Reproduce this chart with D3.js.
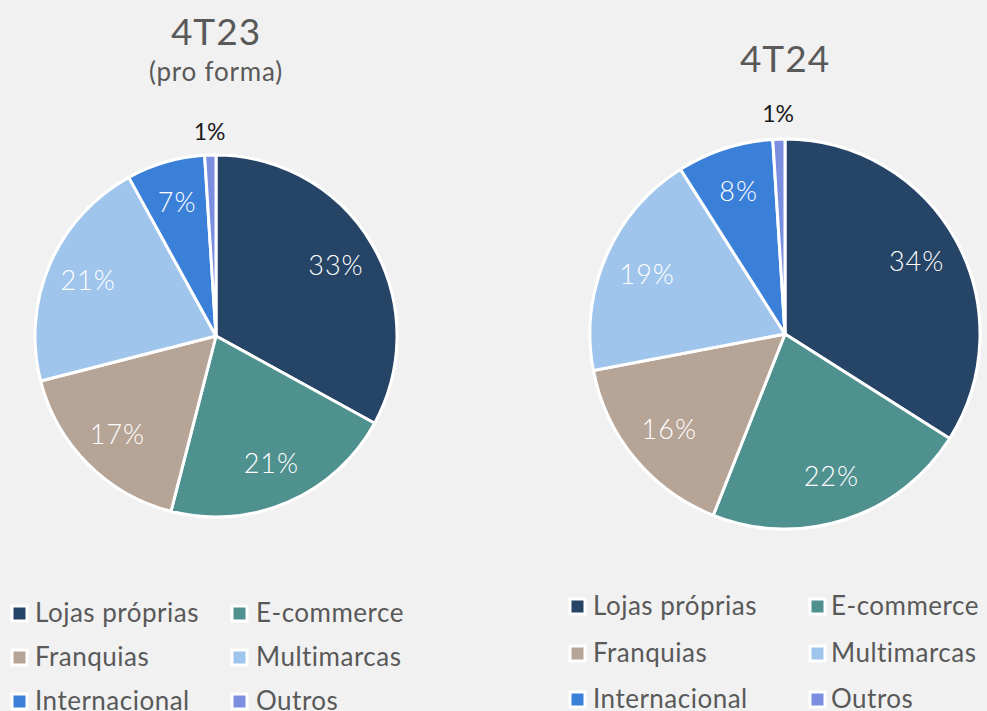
<!DOCTYPE html>
<html>
<head>
<meta charset="utf-8">
<script src="https://cdn.jsdelivr.net/npm/d3@7"></script>
<style>
  html, body { margin: 0; padding: 0; background: #f1f1f1; }
  svg { display: block; font-family: Lato, "Open Sans", sans-serif; }
</style>
</head>
<body>
<div id="chart"></div>
<script>
// Categories and colours (legend order = slice order)
const categories = ["Lojas próprias", "E-commerce", "Franquias", "Multimarcas", "Internacional", "Outros"];
const colors = ["#264466", "#4f918f", "#b6a496", "#a0c5ec", "#3a80d9", "#7b8ee0"];

// Share of revenue per channel (%)
const values4T23 = [33, 21, 17, 21, 7, 1];
const values4T24 = [34, 22, 16, 19, 8, 1];

const W = 987, H = 711;

const svg = d3.select("#chart").append("svg")
  .attr("width", W)
  .attr("height", H);

svg.append("rect").attr("width", W).attr("height", H).attr("fill", "#f1f1f1");

const color = d3.scaleOrdinal().domain(categories).range(colors);

// Pie settings for each panel
const panels = [
  {
    values: values4T23, cx: 216, cy: 336, r: 181,
    title: "4T23", titleY: 45, subtitle: "(pro forma)", subY: 81,
    legendX: [12, 232], textX: [35, 256], legendY: [613, 657, 701]
  },
  {
    values: values4T24, cx: 785, cy: 334, r: 195,
    title: "4T24", titleY: 72, subtitle: null,
    legendX: [570, 810], textX: [593, 831], legendY: [606, 653, 699]
  }
];

const pie = d3.pie().sort(null).value(d => d.v);

panels.forEach(p => {
  const data = categories.map((c, i) => ({ name: c, v: p.values[i] }));
  const arcs = pie(data);
  const arc = d3.arc().innerRadius(0).outerRadius(p.r);
  const labelArc = d3.arc().innerRadius(p.r * 0.77).outerRadius(p.r * 0.77);
  const outArc = d3.arc().innerRadius(p.r * 1.13).outerRadius(p.r * 1.13);

  const g = svg.append("g")
    .attr("transform", "translate(" + p.cx + "," + p.cy + ")");

  // Outer white ring
  g.append("circle")
    .attr("r", p.r + 1.5)
    .attr("fill", "#ffffff");

  g.selectAll("path")
    .data(arcs)
    .enter()
    .append("path")
    .attr("d", arc)
    .attr("fill", d => color(d.data.name))
    .attr("stroke", "#ffffff")
    .attr("stroke-width", 3)
    .attr("stroke-linejoin", "round");

  // Percentage labels
  g.selectAll("text.lbl")
    .data(arcs)
    .enter()
    .append("text")
    .attr("class", "lbl")
    .attr("transform", d => {
      const c = d.data.v < 3 ? outArc.centroid(d) : labelArc.centroid(d);
      return "translate(" + c[0] + "," + c[1] + ")";
    })
    .attr("text-anchor", "middle")
    .attr("dy", "0.35em")
    .attr("font-size", d => d.data.v < 3 ? 23 : 27)
    .attr("letter-spacing", d => d.data.v < 3 ? 0 : 1)
    .attr("font-weight", d => d.data.v < 3 ? 400 : 300)
    .attr("fill", d => d.data.v < 3 ? "#1a1a1a" : "#ffffff")
    .text(d => d.data.v + "%");

  // Titles
  svg.append("text")
    .attr("x", p.cx)
    .attr("y", p.titleY)
    .attr("text-anchor", "middle")
    .attr("font-size", 37)
    .attr("letter-spacing", 1)
    .attr("fill", "#595959")
    .text(p.title);

  if (p.subtitle) {
    svg.append("text")
      .attr("x", p.cx)
      .attr("y", p.subY)
      .attr("text-anchor", "middle")
      .attr("font-size", 26)
      .attr("letter-spacing", 0.8)
      .attr("fill", "#595959")
      .text(p.subtitle);
  }

  // Legend, two columns by three rows
  const lg = svg.append("g");
  categories.forEach((c, i) => {
    const col = i % 2, row = Math.floor(i / 2);
    const y = p.legendY[row];
    lg.append("rect")
      .attr("x", p.legendX[col])
      .attr("y", y - 7)
      .attr("width", 15)
      .attr("height", 15)
      .attr("fill", color(c))
      .attr("stroke", "#ffffff")
      .attr("stroke-width", 3);
    lg.append("text")
      .attr("x", p.textX[col])
      .attr("y", y)
      .attr("dy", "0.35em")
      .attr("font-size", 26)
      .attr("letter-spacing", 0.5)
      .attr("fill", "#595959")
      .text(c);
  });
});
</script>
</body>
</html>
